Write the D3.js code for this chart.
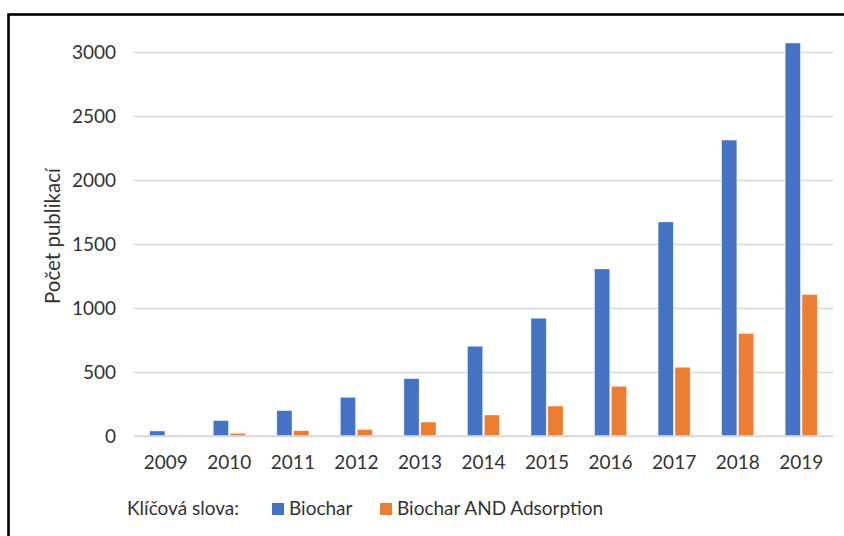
<!DOCTYPE html>
<html>
<head>
<meta charset="utf-8">
<script src="https://cdn.jsdelivr.net/npm/d3@7"></script>
<style>
  html, body { margin: 0; padding: 0; background: #fff; }
  svg { display: block; }
  text { font-family: Lato, "Open Sans", sans-serif; fill: #333; }
</style>
</head>
<body>
<svg id="chart" width="844" height="536"></svg>
<script>
// Publication counts per year
const years = ["2009", "2010", "2011", "2012", "2013", "2014", "2015", "2016", "2017", "2018", "2019"];
const seriesNames = ["Biochar", "Biochar AND Adsorption"];
const biochar = [39, 120, 198, 302, 448, 701, 920, 1305, 1672, 2312, 3070];
const biocharAdsorption = [2, 21, 41, 50, 109, 164, 234, 388, 537, 800, 1105];
const yTicks = [0, 500, 1000, 1500, 2000, 2500, 3000];
const colors = ["#4472C4", "#ED7D31"];

const svg = d3.select("#chart");
const W = 844, H = 536;
const plot = { left: 134, right: 833, top: 52, bottom: 436 };
const fontSize = 19;

// Outer frame (right and bottom edges sit outside the view)
svg.append("rect")
  .attr("x", 8.5).attr("y", 14.5)
  .attr("width", W + 20).attr("height", H + 20)
  .attr("fill", "none").attr("stroke", "#000").attr("stroke-width", 2.6);

const x0 = d3.scaleBand().domain(years).range([plot.left, plot.right]).paddingInner(0.496).paddingOuter(0.248);
const x1 = d3.scaleBand().domain(seriesNames).range([0, x0.bandwidth()]).padding(0.1).paddingOuter(0);
const y = d3.scaleLinear().domain([0, 3000]).range([plot.bottom, plot.top]);

// Gridlines and value axis
const yAxis = d3.axisLeft(y).tickValues(yTicks).tickFormat(d3.format("d"))
  .tickSize(-(plot.right - plot.left)).tickPadding(18);
const gy = svg.append("g").attr("transform", `translate(${plot.left},0)`).call(yAxis);
gy.select(".domain").remove();
gy.selectAll(".tick line").attr("stroke", "#d9d9d9").attr("stroke-width", 1.3);
gy.selectAll(".tick text").attr("font-size", fontSize).attr("fill", "#333")
  .style("font-family", "Lato, 'Open Sans', sans-serif").attr("dy", "0.35em");

// Bars
const data = years.map((yr, i) => ({ year: yr, values: [biochar[i], biocharAdsorption[i]] }));
const groups = svg.append("g").selectAll("g").data(data).join("g")
  .attr("transform", d => `translate(${x0(d.year)},0)`);
groups.selectAll("rect")
  .data(d => d.values.map((v, k) => ({ name: seriesNames[k], value: v, k })))
  .join("rect")
  .attr("x", d => x1(d.name))
  .attr("width", x1.bandwidth())
  .attr("y", d => y(d.value))
  .attr("height", d => y(0) - y(d.value))
  .attr("fill", d => colors[d.k])
  .attr("stroke", "#fff").attr("stroke-width", 0.6).attr("stroke-opacity", 0.6);

// Category axis
const xAxis = d3.axisBottom(x0).tickSize(0).tickPadding(20);
const gx = svg.append("g").attr("transform", `translate(0,${plot.bottom})`).call(xAxis);
gx.select(".domain").attr("stroke", "#d9d9d9").attr("stroke-width", 1.6)
  .attr("d", `M${plot.left},0H${plot.right}`);
gx.selectAll(".tick text").attr("font-size", fontSize).attr("fill", "#333")
  .style("font-family", "Lato, 'Open Sans', sans-serif");

// Axis title
svg.append("text")
  .attr("transform", "translate(60,236) rotate(-90)")
  .attr("text-anchor", "middle")
  .attr("font-size", 20.5)
  .text("Počet publikací");

// Legend
const legend = svg.append("g");
legend.append("text").attr("x", 127).attr("y", 515).attr("font-size", fontSize).text("Klíčová slova:");
const legendItems = [{ name: seriesNames[0], x: 272 }, { name: seriesNames[1], x: 380 }];
legendItems.forEach((it, k) => {
  legend.append("rect").attr("x", it.x).attr("y", 503).attr("width", 12).attr("height", 12).attr("fill", colors[k]);
  legend.append("text").attr("x", it.x + 17).attr("y", 515).attr("font-size", fontSize).text(it.name);
});
</script>
</body>
</html>
